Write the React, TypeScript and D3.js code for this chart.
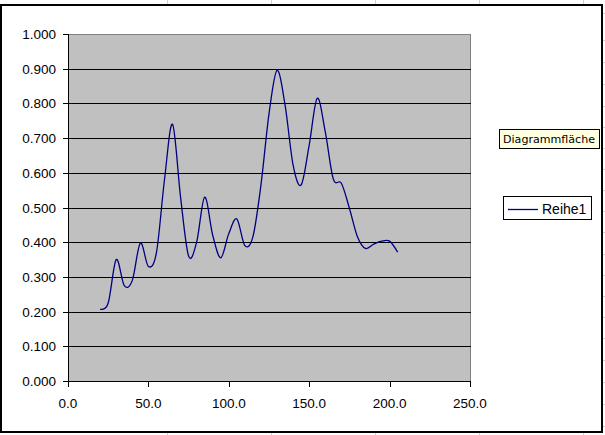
import React from 'react';
import { scaleLinear, line, curveCardinal } from 'd3';

// series "Reihe1"
const xValues = [
  20, 25, 30, 35, 40, 45, 50, 55, 60, 65, 70, 75, 80, 85, 90, 95, 100, 105, 110,
  115, 120, 125, 130, 135, 140, 145, 150, 155, 160, 165, 170, 175, 180, 185, 190,
  195, 200, 205,
];
const yValues = [
  0.207, 0.225, 0.35, 0.275, 0.29, 0.398, 0.33, 0.37, 0.58, 0.74, 0.53, 0.36,
  0.4, 0.53, 0.42, 0.355, 0.425, 0.467, 0.39, 0.416, 0.565, 0.77, 0.895, 0.795,
  0.622, 0.565, 0.68, 0.815, 0.718, 0.582, 0.57, 0.498, 0.416, 0.382, 0.394,
  0.403, 0.403, 0.371,
];
const yTicks = [0, 0.1, 0.2, 0.3, 0.4, 0.5, 0.6, 0.7, 0.8, 0.9, 1.0];
const xTicks = [0, 50, 100, 150, 200, 250];
const seriesName = 'Reihe1';
const tooltipText = 'Diagrammfläche';

// spreadsheet cell grid peeking out around the chart object
const sheetCols = [167, 271, 375, 479, 583];
const sheetRows = [
  13, 40, 62, 84, 106, 127, 148, 169, 190, 211, 232, 254, 275, 296, 317, 338,
  360, 382, 404, 426,
];

const W = 605;
const H = 435;
const margin = { left: 68, right: 470, top: 34, bottom: 381 };
const font = 'Arial, "Liberation Sans", sans-serif';

const App: React.FC = () => {
  const xScale = scaleLinear().domain([0, 250]).range([margin.left, margin.right]);
  const yScale = scaleLinear().domain([0, 1]).range([margin.bottom, margin.top]);

  const points = xValues.map((x, i) => ({ x, y: yValues[i] }));
  const lineGenerator = line<{ x: number; y: number }>()
    .x((d) => xScale(d.x))
    .y((d) => yScale(d.y))
    .curve(curveCardinal.tension(0));

  const px = (v: number) => Math.round(v) + 0.5;

  return (
    <svg
      width={W}
      height={H}
      style={{ position: 'absolute', left: 0, top: 0, background: '#fff' }}
    >
      {/* sheet grid */}
      <g stroke="#d0d0d0" strokeWidth={1} shapeRendering="crispEdges">
        {sheetCols.map((c) => (
          <React.Fragment key={c}>
            <line x1={c + 0.5} x2={c + 0.5} y1={0} y2={4} />
            <line x1={c + 0.5} x2={c + 0.5} y1={433} y2={H} />
          </React.Fragment>
        ))}
        {sheetRows.map((r) => (
          <line key={r} x1={603} x2={W} y1={r + 0.5} y2={r + 0.5} />
        ))}
      </g>

      {/* chart frame */}
      <rect x={1} y={5} width={601} height={427} fill="#fff" stroke="#000" strokeWidth={2} />

      {/* plot area */}
      <rect
        x={margin.left + 0.5}
        y={margin.top + 0.5}
        width={margin.right - margin.left}
        height={margin.bottom - margin.top}
        fill="#c0c0c0"
        stroke="#808080"
        strokeWidth={1}
        shapeRendering="crispEdges"
      />

      {/* gridlines */}
      <g stroke="#000" strokeWidth={1} shapeRendering="crispEdges">
        {yTicks
          .filter((t) => t > 0 && t < 1)
          .map((t) => (
            <line key={t} x1={margin.left} x2={margin.right + 1} y1={px(yScale(t))} y2={px(yScale(t))} />
          ))}
      </g>

      {/* axes */}
      <g stroke="#000" strokeWidth={1} shapeRendering="crispEdges">
        <line x1={px(margin.left)} x2={px(margin.left)} y1={margin.top} y2={margin.bottom + 1} />
        <line x1={margin.left - 5} x2={margin.right + 1} y1={px(margin.bottom)} y2={px(margin.bottom)} />
        {yTicks.map((t) => (
          <line key={t} x1={margin.left - 5} x2={margin.left} y1={px(yScale(t))} y2={px(yScale(t))} />
        ))}
        {xTicks.map((t) => (
          <line key={t} x1={px(xScale(t))} x2={px(xScale(t))} y1={margin.bottom} y2={margin.bottom + 6} />
        ))}
      </g>

      <g fontFamily={font} fontSize={13.5} fill="#000">
        {yTicks.map((t) => (
          <text key={t} x={56} y={yScale(t) + 5} textAnchor="end">
            {t.toFixed(3)}
          </text>
        ))}
        {xTicks.map((t) => (
          <text key={t} x={xScale(t)} y={408} textAnchor="middle">
            {t.toFixed(1)}
          </text>
        ))}
      </g>

      {/* series */}
      <path d={lineGenerator(points) || ''} fill="none" stroke="#000080" strokeWidth={1.3} />

      {/* legend */}
      <rect x={503.5} y={196.5} width={88} height={23} fill="#fff" stroke="#000" strokeWidth={1} />
      <line x1={508} x2={538} y1={209.5} y2={209.5} stroke="#000080" strokeWidth={1.3} />
      <text x={542} y={214} fontFamily={font} fontSize={14} fill="#000">
        {seriesName}
      </text>

      {/* hover tooltip */}
      <rect x={499.5} y={129.5} width={100} height={19} fill="#ffffe1" stroke="#000" strokeWidth={1} />
      <text
        x={503}
        y={143}
        fontFamily='Tahoma, "DejaVu Sans", sans-serif'
        fontSize={11}
        fill="#000"
        textLength={92}
        lengthAdjust="spacingAndGlyphs"
      >
        {tooltipText}
      </text>
    </svg>
  );
};

export default App;
